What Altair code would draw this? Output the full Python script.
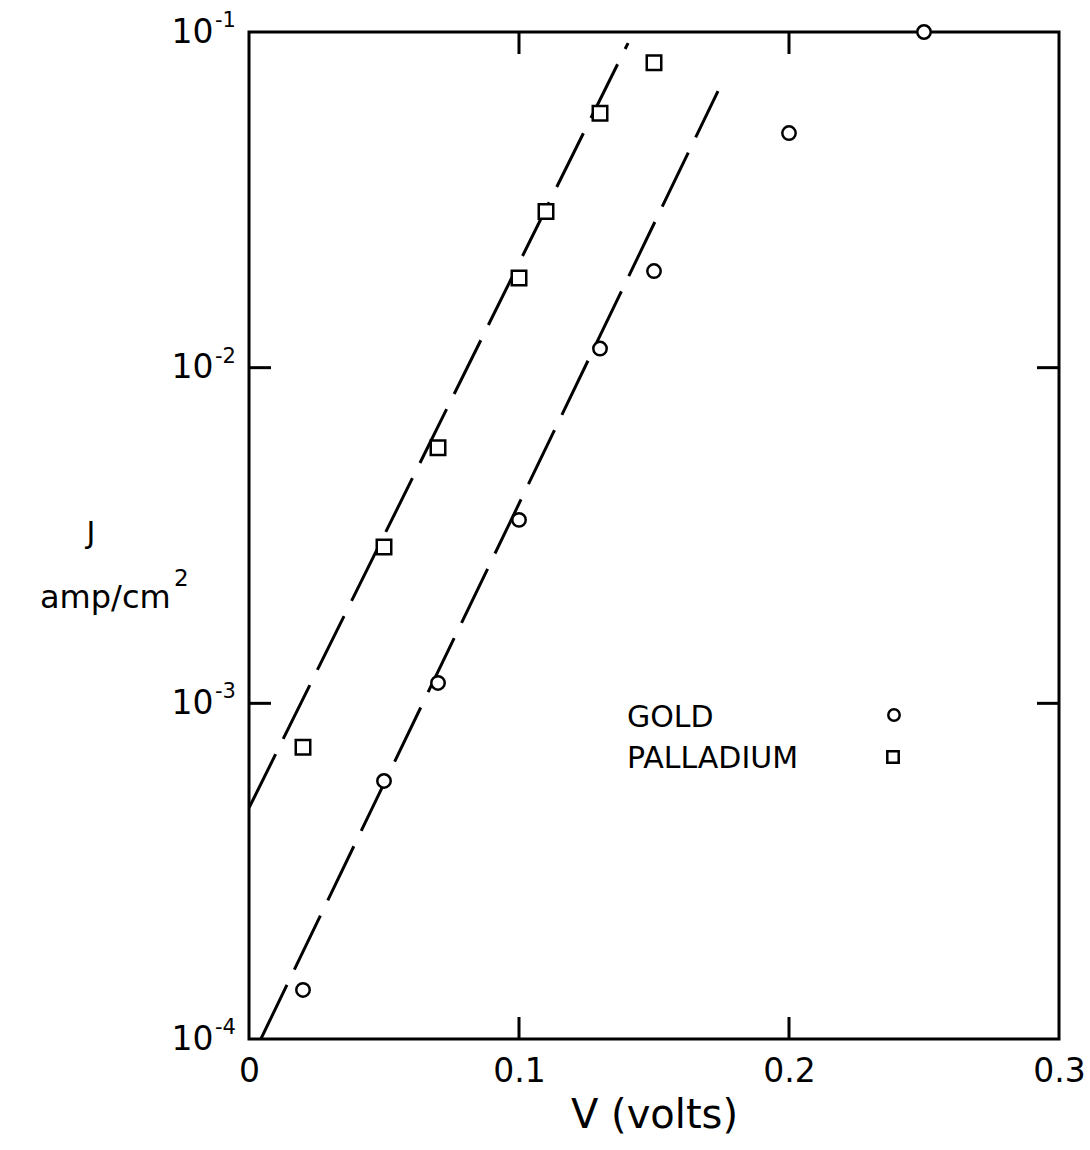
import altair as alt
import pandas as pd

# ---- data ----
gold_v = [0.02, 0.05, 0.07, 0.10, 0.13, 0.15, 0.20, 0.25]
gold_j = [1.40e-4, 5.87e-4, 1.15e-3, 3.52e-3, 1.14e-2, 1.94e-2, 5.0e-2, 1.0e-1]
pd_v = [0.02, 0.05, 0.07, 0.10, 0.11, 0.13, 0.15]
pd_j = [7.4e-4, 2.92e-3, 5.77e-3, 1.85e-2, 2.92e-2, 5.73e-2, 8.1e-2]

# dashed fit lines (end points)
gold_line_v = [0.0044, 0.1737]
gold_line_j = [1.0e-4, 6.67e-2]
pd_line_v = [0.0, 0.1404]
pd_line_j = [4.88e-4, 9.27e-2]

x_ticks = [0.0, 0.1, 0.2, 0.3]
x_inner_ticks = [0.1, 0.2]
y_ticks = [1e-4, 1e-3, 1e-2, 1e-1]
y_inner_ticks = [1e-3, 1e-2]
y_tick_exponents = ["-4", "-3", "-2", "-1"]

W, H = 810, 1007
FONT = "DejaVu Sans"
TL = 22  # inner tick length

gold_df = pd.DataFrame({"v": gold_v, "j": gold_j})
pd_df = pd.DataFrame({"v": pd_v, "j": pd_j})
gline_df = pd.DataFrame({"v": gold_line_v, "j": gold_line_j, "o": [0, 1]})
pline_df = pd.DataFrame({"v": pd_line_v, "j": pd_line_j, "o": [0, 1]})
xt_df = pd.DataFrame({"v": x_inner_ticks})
yt_df = pd.DataFrame({"j": y_inner_ticks})
sup_df = pd.DataFrame({"j": y_ticks, "t": y_tick_exponents})

xs = alt.Scale(domain=[0, 0.3], nice=False, zero=False)
ys = alt.Scale(type="log", domain=[1e-4, 1e-1], nice=False)

x_axis = alt.Axis(
    values=x_ticks, format="~f", title="V (volts)", grid=False, ticks=False,
    tickSize=0, domain=False, labelFont=FONT, labelFontSize=33, labelColor="black",
    labelPadding=16, labelFlush=False, titleFont=FONT, titleFontSize=40,
    titleFontWeight="normal", titleColor="black", titleBaseline="alphabetic",
    titleY=88,
)
y_axis = alt.Axis(
    values=y_ticks, labelExpr="'10'", title=None, grid=False, ticks=False,
    tickSize=0, domain=False, labelFont=FONT, labelFontSize=33, labelColor="black",
    labelPadding=36, labelFlush=False, labelBaseline="middle",
)

X = alt.X("v:Q", scale=xs, axis=x_axis)
Y = alt.Y("j:Q", scale=ys, axis=y_axis)

dash = [60, 17]
gold_line = alt.Chart(gline_df).mark_line(
    color="black", strokeWidth=3, strokeDash=dash, clip=True
).encode(x=X, y=Y, order="o:Q")
pd_line = alt.Chart(pline_df).mark_line(
    color="black", strokeWidth=3, strokeDash=dash, clip=True
).encode(x=X, y=Y, order="o:Q")

gold_pts = alt.Chart(gold_df).mark_point(
    shape="circle", size=180, filled=True, fill="white", stroke="black",
    strokeWidth=2.5, opacity=1
).encode(x=X, y=Y)
pd_pts = alt.Chart(pd_df).mark_point(
    shape="square", size=210, filled=True, fill="white", stroke="black",
    strokeWidth=2.5, opacity=1
).encode(x=X, y=Y)

tick_style = dict(color="black", strokeWidth=3)
xt_bottom = alt.Chart(xt_df).mark_rule(**tick_style).encode(
    x=X, y=alt.value(H - TL), y2=alt.value(H))
xt_top = alt.Chart(xt_df).mark_rule(**tick_style).encode(
    x=X, y=alt.value(0), y2=alt.value(TL))
yt_left = alt.Chart(yt_df).mark_rule(**tick_style).encode(
    y=Y, x=alt.value(0), x2=alt.value(TL))
yt_right = alt.Chart(yt_df).mark_rule(**tick_style).encode(
    y=Y, x=alt.value(W - TL), x2=alt.value(W))

# exponents of the y tick labels (10^n)
sup = alt.Chart(sup_df).mark_text(
    font=FONT, fontSize=21, align="left", baseline="middle", color="black",
    dy=-11, clip=False
).encode(text="t:N", y=Y, x=alt.value(215 - 249))

# y-axis title (two lines)
ytitle_j = alt.Chart(pd.DataFrame({"t": ["J"]})).mark_text(
    font=FONT, fontSize=30, align="center", baseline="alphabetic", color="black"
).encode(text="t:N", x=alt.value(91 - 249), y=alt.value(543 - 32))
ytitle_u = alt.Chart(pd.DataFrame({"t": ["amp/cm"]})).mark_text(
    font=FONT, fontSize=32, align="left", baseline="alphabetic", color="black"
).encode(text="t:N", x=alt.value(40 - 249), y=alt.value(608 - 32))
ytitle_sq = alt.Chart(pd.DataFrame({"t": ["2"]})).mark_text(
    font=FONT, fontSize=23, align="left", baseline="alphabetic", color="black"
).encode(text="t:N", x=alt.value(174 - 249), y=alt.value(586 - 32))

# legend
leg_font = dict(font=FONT, fontSize=30, align="left", baseline="alphabetic", color="black")
leg_gold_t = alt.Chart(pd.DataFrame({"t": ["GOLD"]})).mark_text(**leg_font).encode(
    text="t:N", x=alt.value(378), y=alt.value(695))
leg_pd_t = alt.Chart(pd.DataFrame({"t": ["PALLADIUM"]})).mark_text(**leg_font).encode(
    text="t:N", x=alt.value(378), y=alt.value(736))
leg_gold_s = alt.Chart(pd.DataFrame({"t": ["GOLD"]})).mark_point(
    shape="circle", size=130, stroke="black", strokeWidth=2.5, fill="white",
    filled=True, opacity=1).encode(x=alt.value(645), y=alt.value(683))
leg_pd_s = alt.Chart(pd.DataFrame({"t": ["PALLADIUM"]})).mark_point(
    shape="square", size=130, stroke="black", strokeWidth=2.5, fill="white",
    filled=True, opacity=1).encode(x=alt.value(644), y=alt.value(725))

chart = alt.layer(
    gold_line, pd_line, xt_bottom, xt_top, yt_left, yt_right,
    gold_pts, pd_pts, sup, ytitle_j, ytitle_u, ytitle_sq,
    leg_gold_t, leg_pd_t, leg_gold_s, leg_pd_s,
).properties(
    width=W, height=H, autosize=alt.AutoSizeParams(type="none"),
    padding={"left": 249, "top": 32, "right": 31, "bottom": 111},
    background="white",
).configure_view(
    stroke="black", strokeWidth=3
)

chart.save("out.html", embed_options={"renderer": "svg", "actions": False})
